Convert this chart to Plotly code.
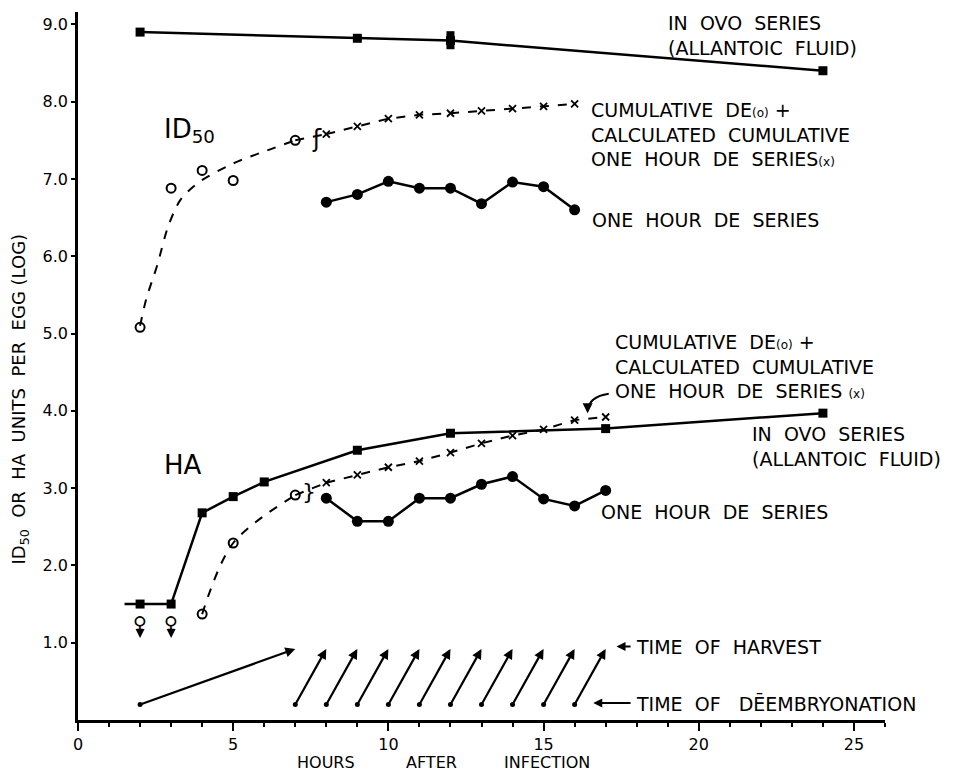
import plotly.graph_objects as go

# ---------------- data ----------------
# ID50
id50_ovo_hours = [2, 9, 12, 24]
id50_ovo_values = [8.9, 8.82, 8.79, 8.4]
id50_ovo_extra_hours = [12, 12]
id50_ovo_extra_values = [8.86, 8.73]

id50_cum_de_hours = [2, 3, 4, 5, 7]
id50_cum_de_values = [5.08, 6.88, 7.11, 6.98, 7.5]
id50_fit_hours = [2.0, 2.2, 2.55, 2.9, 3.3, 3.9, 5.0, 6.1, 7.0]
id50_fit_values = [5.1, 5.45, 5.88, 6.38, 6.73, 6.96, 7.2, 7.37, 7.5]
id50_calc_hours = [8, 9, 10, 11, 12, 13, 14, 15, 16]
id50_calc_values = [7.58, 7.68, 7.78, 7.83, 7.85, 7.88, 7.91, 7.94, 7.97]
id50_1h_hours = [8, 9, 10, 11, 12, 13, 14, 15, 16]
id50_1h_values = [6.7, 6.8, 6.97, 6.88, 6.88, 6.68, 6.96, 6.9, 6.6]

# HA
ha_ovo_hours = [2, 3, 4, 5, 6, 9, 12, 17, 24]
ha_ovo_values = [1.5, 1.5, 2.68, 2.89, 3.08, 3.49, 3.71, 3.77, 3.97]
ha_ovo_line_start = 1.5
ha_below_limit_hours = [2, 3]
ha_cum_de_hours = [4, 5, 7]
ha_cum_de_values = [1.37, 2.29, 2.91]
ha_calc_hours = [8, 9, 10, 11, 12, 13, 14, 15, 16, 17]
ha_calc_values = [3.07, 3.17, 3.27, 3.35, 3.46, 3.58, 3.68, 3.76, 3.88, 3.92]
ha_1h_hours = [8, 9, 10, 11, 12, 13, 14, 15, 16, 17]
ha_1h_values = [2.87, 2.57, 2.57, 2.87, 2.87, 3.05, 3.15, 2.86, 2.77, 2.97]

# time of deembryonation -> time of harvest
deemb_hours = [7, 8, 9, 10, 11, 12, 13, 14, 15, 16]
harvest_hours = [8, 9, 10, 11, 12, 13, 14, 15, 16, 17]
cum_deemb_hour = 2
cum_harvest_hour = 7

x_ticks = [0, 5, 10, 15, 20, 25]
y_ticks = [1, 2, 3, 4, 5, 6, 7, 8, 9]
y_tick_labels = ["1.0", "2.0", "3.0", "4.0", "5.0", "6.0", "7.0", "8.0", "9.0"]

# ---------------- styling ----------------
FONT = "DejaVu Sans"
INK = "black"
LABEL_SIZE = 19
X_MAX = 26
Y_MAX = 9.16
deemb_level = 0.2
harvest_level = 0.92

fig = go.Figure()

def line_trace(x, y, dash="solid", width=2.5, shape="linear", smoothing=1.0):
    fig.add_trace(go.Scatter(x=x, y=y, mode="lines",
                             line=dict(color=INK, width=width, dash=dash,
                                       shape=shape, smoothing=smoothing),
                             hoverinfo="skip", showlegend=False))

def marker_trace(x, y, symbol, size, lw=0):
    fig.add_trace(go.Scatter(x=x, y=y, mode="markers",
                             marker=dict(symbol=symbol, size=size, color=INK,
                                         line=dict(color=INK, width=lw)),
                             hoverinfo="skip", showlegend=False))

# ---- ID50 ----
line_trace(id50_ovo_hours, id50_ovo_values)
marker_trace(id50_ovo_hours, id50_ovo_values, "square", 9)
marker_trace(id50_ovo_extra_hours, id50_ovo_extra_values, "square", 8)

line_trace(id50_fit_hours, id50_fit_values, dash="dash", width=2, shape="spline", smoothing=0.8)
line_trace([id50_fit_hours[-1], id50_calc_hours[0]], [id50_fit_values[-1], id50_calc_values[0]],
           dash="dash", width=2)
marker_trace(id50_cum_de_hours, id50_cum_de_values, "circle-open", 9, lw=2)
line_trace(id50_calc_hours, id50_calc_values, dash="dash", width=2)
marker_trace(id50_calc_hours, id50_calc_values, "x-thin", 7, lw=1.8)

line_trace(id50_1h_hours, id50_1h_values)
marker_trace(id50_1h_hours, id50_1h_values, "circle", 11)

# ---- HA ----
line_trace([ha_ovo_line_start] + ha_ovo_hours, [ha_ovo_values[0]] + ha_ovo_values)
marker_trace(ha_ovo_hours, ha_ovo_values, "square", 9)

line_trace(ha_cum_de_hours, ha_cum_de_values, dash="dash", width=2, shape="spline", smoothing=0.9)
line_trace([ha_cum_de_hours[-1], ha_calc_hours[0]], [ha_cum_de_values[-1], ha_calc_values[0]],
           dash="dash", width=2)
marker_trace(ha_cum_de_hours, ha_cum_de_values, "circle-open", 9, lw=2)
line_trace(ha_calc_hours, ha_calc_values, dash="dash", width=2)
marker_trace(ha_calc_hours, ha_calc_values, "x-thin", 7, lw=1.8)

line_trace(ha_1h_hours, ha_1h_values)
marker_trace(ha_1h_hours, ha_1h_values, "circle", 11)

# tails of the deembryonation arrows
marker_trace(deemb_hours + [cum_deemb_hour], [deemb_level] * (len(deemb_hours) + 1), "circle", 5)

annotations = []

def text(x, y, s, size=LABEL_SIZE, xanchor="left", yanchor="middle", align="left",
         xref="x", yref="y", angle=0):
    annotations.append(dict(x=x, y=y, text=s, showarrow=False, xref=xref, yref=yref,
                            xanchor=xanchor, yanchor=yanchor, align=align, textangle=angle,
                            font=dict(family=FONT, size=size, color=INK)))

def arrow(x0, y0, x1, y1, width=2, head=2, size=0.9):
    annotations.append(dict(x=x1, y=y1, ax=x0, ay=y0, xref="x", yref="y", axref="x", ayref="y",
                            text="", showarrow=True, arrowhead=head, arrowsize=size,
                            arrowwidth=width, arrowcolor=INK, standoff=0, startstandoff=0))

# deembryonation -> harvest arrows
for d, h in zip(deemb_hours, harvest_hours):
    arrow(d, deemb_level, h, harvest_level, width=2.2)
arrow(cum_deemb_hour, deemb_level, cum_harvest_hour, harvest_level, width=2.2)

# below-limit symbols under the first HA in-ovo points
for h in ha_below_limit_hours:
    text(h, 1.26, "♀", size=19, xanchor="center")
    arrow(h, 1.15, h, 1.06, width=1.8, head=2, size=1)

# break symbols
text(7.7, 7.52, "ʃ", size=24, xanchor="center")
text(7.45, 2.95, "}", size=22, xanchor="center")

SMALL = "<span style='font-size:12px'>%s</span>"
# series labels
text(18.95, 8.85, "IN  OVO  SERIES<br>(ALLANTOIC  FLUID)")
text(16.45, 7.58, "CUMULATIVE  DE" + SMALL % "(o)" + " +<br>"
                  "CALCULATED  CUMULATIVE<br>ONE  HOUR  DE  SERIES" + SMALL % "(x)")
text(16.5, 6.47, "ONE  HOUR  DE  SERIES")
text(2.7, 7.63, "ID<sub>50</sub>", size=26)

text(17.25, 4.57, "CUMULATIVE  DE" + SMALL % "(o)" + " +<br>"
                  "CALCULATED  CUMULATIVE<br>ONE  HOUR  DE  SERIES " + SMALL % "(x)")
text(21.65, 3.54, "IN  OVO  SERIES<br>(ALLANTOIC  FLUID)")
text(16.8, 2.69, "ONE  HOUR  DE  SERIES")
text(2.7, 3.3, "HA", size=26)

text(17.9, 0.95, "TIME  OF  HARVEST")
arrow(17.85, 0.95, 17.35, 0.95, width=2, head=2, size=0.9)
text(17.9, 0.22, "TIME  OF   DĒEMBRYONATION")
arrow(17.85, 0.22, 16.6, 0.22, width=2, head=2, size=0.9)

# axis titles (paper coordinates: below the x axis / left of the y axis)
title_y = -0.70 / Y_MAX
text(8.0 / X_MAX, title_y, "HOURS", size=16, xanchor="center", yanchor="bottom",
     xref="paper", yref="paper")
text(11.4 / X_MAX, title_y, "AFTER", size=16, xanchor="center", yanchor="bottom",
     xref="paper", yref="paper")
text(15.1 / X_MAX, title_y, "INFECTION", size=16, xanchor="center", yanchor="bottom",
     xref="paper", yref="paper")
text(-0.072, 0.454, "ID<sub>50</sub>  OR  HA  UNITS  PER  EGG (LOG)", size=18,
     xanchor="center", yanchor="middle", xref="paper", yref="paper", angle=-90, align="center")

# curved pointer for the HA cumulative label
fig.add_shape(type="path", xref="x", yref="y",
              path="M 17.1,4.22 Q 16.45,4.18 16.42,4.0",
              line=dict(color=INK, width=2))
arrow(16.42, 4.03, 16.42, 3.97, width=2, head=2, size=1)

fig.update_layout(
    width=958, height=775,
    margin=dict(l=78, r=73, t=12, b=55, autoexpand=False),
    paper_bgcolor="white", plot_bgcolor="white",
    font=dict(family=FONT, color=INK),
    showlegend=False,
    annotations=annotations,
    xaxis=dict(range=[0, X_MAX], showgrid=False, zeroline=False, showline=True,
               linecolor=INK, linewidth=2.5, ticks="outside", tickvals=x_ticks,
               ticklen=8, tickwidth=2, tickcolor=INK, automargin=False,
               tickfont=dict(family=FONT, size=16, color=INK),
               minor=dict(dtick=1, ticks="outside", ticklen=4, tickwidth=2, tickcolor=INK)),
    yaxis=dict(range=[0, Y_MAX], showgrid=False, zeroline=False, showline=True,
               linecolor=INK, linewidth=2.5, ticks="outside", tickvals=y_ticks,
               ticktext=y_tick_labels, ticklen=4, tickwidth=2, tickcolor=INK, automargin=False,
               tickfont=dict(family=FONT, size=16, color=INK)),
)

fig.write_html("out.html", config={"displayModeBar": False},
               post_script="document.body.style.margin='0px';document.body.style.overflow='hidden';")
